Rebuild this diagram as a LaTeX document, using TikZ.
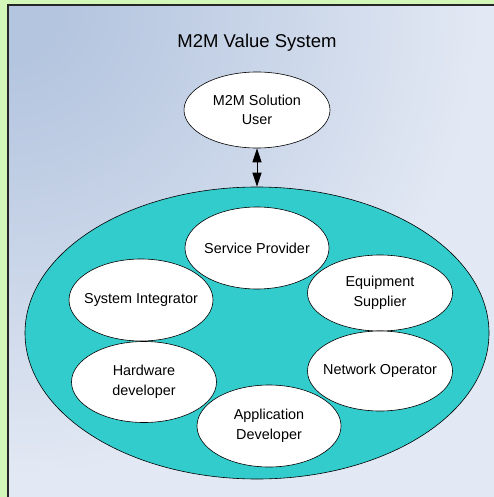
\documentclass[tikz,border=0pt]{standalone}
\usepackage{fontspec}
\setmainfont{Liberation Sans}
\usetikzlibrary{shapes.geometric,arrows.meta}
\definecolor{bgA}{HTML}{B4C5DF}
\definecolor{bgM}{HTML}{CDD8EA}
\definecolor{bgB}{HTML}{E3E9F4}
\definecolor{outgreen}{HTML}{D3F6B9}
\definecolor{teal}{HTML}{33CCCC}
\pgfdeclareradialshading{bgrad}{\pgfpoint{0bp}{0bp}}{color(0bp)=(bgA); color(2bp)=(bgA); color(10.5bp)=(bgM); color(17bp)=(bgB); color(50bp)=(bgB)}
\tikzset{
  oval/.style={ellipse, draw=black, line width=0.6pt, fill=white, inner sep=0pt},
  every label/.style={align=center, font=\fontsize{14.4}{19.5}\selectfont, text=black},
}
\begin{document}
\begin{tikzpicture}[x=1pt,y=-1pt]
\useasboundingbox (0,0) rectangle (494,497);
\clip (0,0) rectangle (494,497);
\fill[outgreen] (0,0) rectangle (494,497);
\fill[bgB] (8,5) rectangle (520,520);
\begin{scope}
\clip (8,5) rectangle (520,520);
\shade[shading=bgrad] (8,5) circle (700pt);
\end{scope}
\draw[line width=1.2pt, black!85] (8,520) -- (8,5) -- (520,5);
\node[font=\fontsize{18.5}{22}\selectfont] (title) at (257,43) {M2M Value System};
\node[oval, minimum width=146pt, minimum height=76pt, label={center:M2M Solution\\User}] (user) at (257,110) {};
\node[ellipse, draw=black, line width=0.6pt, fill=teal, inner sep=0pt, minimum width=464pt, minimum height=292pt] (sys) at (257,333) {};
\draw[line width=0.9pt, {Triangle[width=9pt,length=14pt]}-{Triangle[width=9pt,length=14pt]}] (user.south) -- (sys.north);
\node[oval, minimum width=144pt, minimum height=82pt, label={center:Service Provider}] (sp) at (257,248) {};
\node[oval, minimum width=144pt, minimum height=82pt, label={center:System Integrator}] (si) at (141,300) {};
\node[oval, minimum width=145pt, minimum height=76pt, label={center:Equipment\\Supplier}] (es) at (380,293) {};
\node[oval, minimum width=145pt, minimum height=80pt, label={center:Network Operator}] (no) at (380,371) {};
\node[oval, minimum width=145pt, minimum height=81pt, label={center:Hardware\\developer}] (hd) at (144,382) {};
\node[oval, minimum width=144pt, minimum height=82pt, label={center:Application\\Developer}] (ad) at (269,426) {};
\end{tikzpicture}
\end{document}
